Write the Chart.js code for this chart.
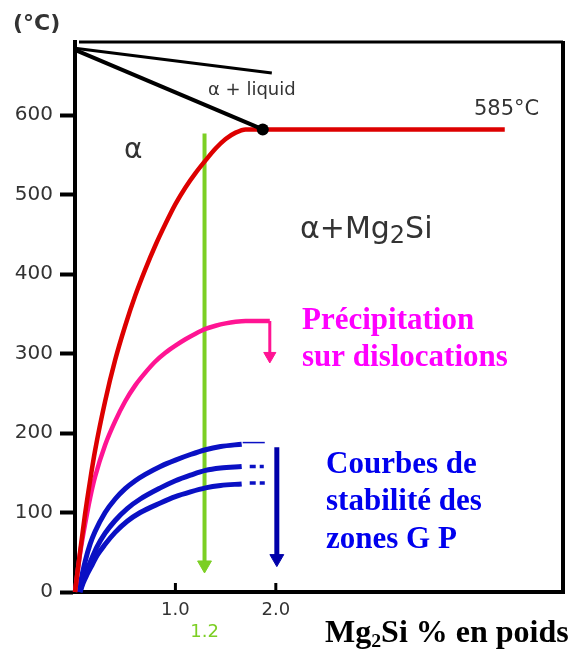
<!DOCTYPE html>
<html>
<head>
<meta charset="utf-8">
<script src="https://cdn.jsdelivr.net/npm/chart.js@4.4.1/dist/chart.umd.min.js"></script>
<style>
  html, body { margin: 0; padding: 0; background: #fff; }
  canvas { display: block; }
</style>
</head>
<body>
<canvas id="chart" width="572" height="651"></canvas>
<script>
// axis ranges and ticks (x: wt% Mg2Si, y: °C)
const xMax = 4.86;
const yMax = 692;
const yTicks = [0, 100, 200, 300, 400, 500, 600];
const xTicks = [1.0, 1.29, 2.0];
const xTickLabels = ['1.0', ['', '1.2'], '2.0'];

// phase boundaries
const liquidus = [[0, 684], [1.96, 653]];
const solidus = [[0, 682], [1.87, 582]];
const eutectic = [[1.87, 582]];
const solvus = [[0, 0], [0.05, 50], [0.1, 98], [0.15, 140], [0.2, 178], [0.3, 240], [0.4, 292],
  [0.5, 335], [0.6, 373], [0.7, 406], [0.8, 436], [0.9, 463], [1.0, 488], [1.1, 509], [1.2, 527],
  [1.3, 543], [1.4, 558], [1.5, 570], [1.6, 578], [1.7, 582], [4.28, 582]];

// precipitation on dislocations
const dislocations = [[0, 0], [0.05, 48], [0.1, 85], [0.15, 118], [0.2, 145], [0.3, 185], [0.4, 215],
  [0.5, 240], [0.6, 260], [0.7, 276], [0.8, 290], [0.9, 301], [1.0, 310], [1.1, 318], [1.2, 325],
  [1.3, 331], [1.4, 335], [1.5, 338], [1.6, 340], [1.7, 341], [1.94, 341]];

// GP zone stability curves
const gpTop = [[0.04, 0], [0.06, 15], [0.1, 38], [0.15, 60], [0.2, 76], [0.3, 100], [0.4, 117],
  [0.5, 130], [0.6, 140], [0.7, 148], [0.85, 158], [1.0, 166], [1.15, 173], [1.3, 179], [1.45, 183], [1.66, 186]];
const gpMid = [[0.05, 0], [0.08, 14], [0.12, 28], [0.17, 43], [0.22, 57], [0.3, 74], [0.4, 90],
  [0.52, 105], [0.65, 117], [0.85, 131], [1.0, 140], [1.15, 147], [1.3, 153], [1.45, 156], [1.66, 158]];
const gpLow = [[0.05, 0], [0.08, 11], [0.12, 22], [0.17, 34], [0.22, 46], [0.3, 60], [0.4, 75],
  [0.52, 89], [0.65, 100], [0.85, 112], [1.0, 120], [1.15, 126], [1.3, 131], [1.45, 134], [1.66, 136]];
const gpTopExt = [[1.67, 188], [1.89, 188]];
const gpMidDash = [[1.74, 158], [1.88, 158]];
const gpLowDash = [[1.74, 137], [1.89, 137]];

// arrows (start, head)
const pinkArrow = [[1.94, 341], [1.94, 297]];
const blueArrow = [[2.01, 182], [2.01, 42]];
const greenArrow = [[1.29, 577], [1.29, 34]];

const RED = '#dd0000', PINK = '#ff1493', BLUE = '#0a10c4', BLUE_DARK = '#0000aa', GREEN = '#7ccf24';

function series(points, color, width, extra) {
  return Object.assign({
    data: points.map(([x, y]) => ({ x, y })),
    borderColor: color,
    backgroundColor: color,
    borderWidth: width,
    pointRadius: 0,
    showLine: true,
    tension: 0,
    clip: false
  }, extra || {});
}
const curve = { cubicInterpolationMode: 'monotone' };
const head = r => ({ pointRadius: [0, r], pointStyle: 'triangle', rotation: 180, pointBorderWidth: 1 });

function drawText(ctx, parts, x, y, font, size, color) {
  ctx.fillStyle = color;
  ctx.textBaseline = 'alphabetic';
  ctx.textAlign = 'left';
  parts.forEach(p => {
    const s = p.sub ? size * p.sub : size;
    ctx.font = font.replace('SIZE', s + 'px');
    ctx.fillText(p.t, x, y + (p.dy || 0));
    x += ctx.measureText(p.t).width;
  });
}

const decorations = {
  id: 'decorations',
  afterDraw(chart) {
    const { ctx, chartArea: a, scales } = chart;
    ctx.save();
    // frame: top and right
    ctx.strokeStyle = '#000';
    ctx.lineWidth = 3;
    ctx.beginPath();
    ctx.moveTo(a.left + 4, a.top);
    ctx.lineTo(a.right, a.top);
    ctx.stroke();
    ctx.lineWidth = 4;
    ctx.beginPath();
    ctx.moveTo(a.right, a.top - 1);
    ctx.lineTo(a.right, a.bottom + 2);
    ctx.stroke();
    // small inward ticks on x axis
    ctx.lineWidth = 3;
    [1.0, 2.0].forEach(v => {
      const px = scales.x.getPixelForValue(v);
      ctx.beginPath();
      ctx.moveTo(px, a.bottom);
      ctx.lineTo(px, a.bottom - 9);
      ctx.stroke();
    });

    const sans = "SIZE 'DejaVu Sans'";
    const serif = "bold SIZE 'Liberation Serif'";
    drawText(ctx, [{ t: '(°C)' }], 13, 30, "bold SIZE 'DejaVu Sans'", 22, '#333');
    drawText(ctx, [{ t: 'α + liquid' }], 208, 95, sans, 18, '#333');
    drawText(ctx, [{ t: '585°C' }], 474, 115, sans, 21, '#333');
    drawText(ctx, [{ t: 'α' }], 124, 158, sans, 28, '#333');
    drawText(ctx, [{ t: 'α+' }, { t: 'Mg' }, { t: '2', sub: 0.8, dy: 5 }, { t: 'Si' }], 300, 238, sans, 30, '#333');

    drawText(ctx, [{ t: 'Précipitation' }], 302, 329, serif, 31, '#ff00ff');
    drawText(ctx, [{ t: 'sur dislocations' }], 302, 366, serif, 31, '#ff00ff');
    drawText(ctx, [{ t: 'Courbes de' }], 326, 473, serif, 31, '#0000ee');
    drawText(ctx, [{ t: 'stabilité des' }], 326, 510, serif, 31, '#0000ee');
    drawText(ctx, [{ t: 'zones G P' }], 326, 548, serif, 31, '#0000ee');
    drawText(ctx, [{ t: 'Mg' }, { t: '2', sub: 0.62, dy: 5 }, { t: 'Si % en poids' }], 325, 642, serif, 32, '#000');
    ctx.restore();
  }
};

new Chart(document.getElementById('chart'), {
  type: 'scatter',
  data: {
    datasets: [
      series(eutectic, '#000', 0, { pointRadius: 6, showLine: false }),
      series(solidus, '#000', 4),
      series(liquidus, '#000', 3),
      series(solvus, RED, 4.5, curve),
      series(dislocations, PINK, 4.5, curve),
      series(pinkArrow, PINK, 3, head(7)),
      series(gpTop, BLUE, 5, curve),
      series(gpMid, BLUE, 5, curve),
      series(gpLow, BLUE, 5, curve),
      series(gpTopExt, BLUE, 1.5),
      series(gpMidDash, BLUE, 3.5, { borderDash: [6, 4] }),
      series(gpLowDash, BLUE, 3.5, { borderDash: [6, 4] }),
      series(blueArrow, BLUE_DARK, 5, head(8)),
      series(greenArrow, GREEN, 4, head(8))
    ]
  },
  options: {
    responsive: false,
    animation: false,
    events: [],
    layout: { padding: { top: 42, right: 9, left: 0, bottom: 0 } },
    plugins: { legend: { display: false }, tooltip: { enabled: false } },
    scales: {
      x: {
        type: 'linear',
        min: 0,
        max: xMax,
        afterFit: s => { s.height = 59; },
        afterBuildTicks: s => { s.ticks = xTicks.map(v => ({ value: v })); },
        ticks: {
          callback: (v, i) => xTickLabels[i],
          color: c => (c.index === 1 ? GREEN : '#333'),
          font: { family: 'DejaVu Sans', size: 18 },
          padding: 8,
          maxRotation: 0,
          autoSkip: false
        },
        grid: { display: false, drawTicks: false },
        border: { display: true, color: '#000', width: 4 }
      },
      y: {
        min: 0,
        max: yMax,
        afterFit: s => { s.width = 75; },
        afterBuildTicks: s => { s.ticks = yTicks.map(v => ({ value: v })); },
        ticks: {
          color: '#333',
          font: { family: 'DejaVu Sans', size: 20 },
          padding: 7
        },
        grid: { drawOnChartArea: false, drawTicks: true, tickLength: 15, tickWidth: 4, color: '#000' },
        border: { display: true, color: '#000', width: 4 }
      }
    }
  },
  plugins: [decorations]
});
</script>
</body>
</html>
